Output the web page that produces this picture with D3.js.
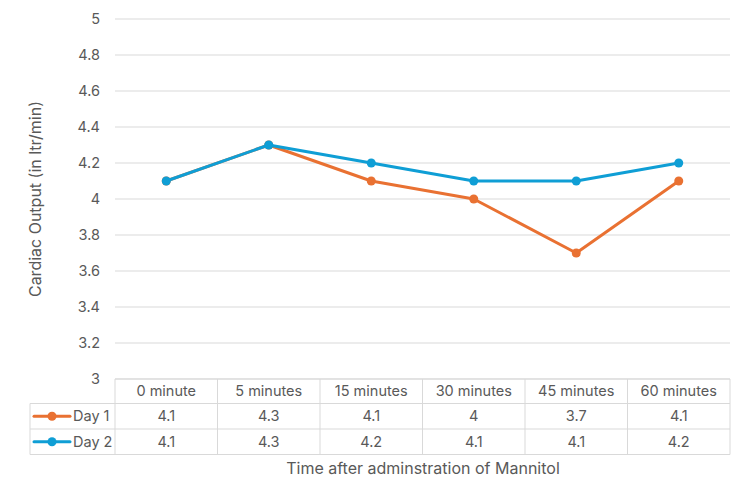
<!DOCTYPE html>
<html>
<head>
<meta charset="utf-8">
<script src="https://cdn.jsdelivr.net/npm/d3@7"></script>
<style>
  body { margin: 0; background: #fff; }
  text { font-family: Inter, "Open Sans", sans-serif; fill: #595959; }
</style>
</head>
<body>
<script>
// data
const categories = ["0 minute", "5 minutes", "15 minutes", "30 minutes", "45 minutes", "60 minutes"];
const day1 = [4.1, 4.3, 4.1, 4, 3.7, 4.1];
const day2 = [4.1, 4.3, 4.2, 4.1, 4.1, 4.2];
const yTicks = [3, 3.2, 3.4, 3.6, 3.8, 4, 4.2, 4.4, 4.6, 4.8, 5];
const seriesNames = ["Day 1", "Day 2"];
const colors = ["#E97132", "#0F9ED5"];

const width = 750, height = 500;
const plot = { left: 115, right: 730, top: 19, bottom: 379 };
const fs = "14.5px";

const svg = d3.select("body").append("svg")
  .attr("width", width)
  .attr("height", height);

const x = d3.scaleBand()
  .domain(categories)
  .range([plot.left, plot.right]);

const y = d3.scaleLinear()
  .domain([3, 5])
  .range([plot.bottom, plot.top]);

// gridlines
svg.append("g").selectAll("line")
  .data(yTicks)
  .join("line")
  .attr("x1", plot.left).attr("x2", plot.right)
  .attr("y1", d => y(d)).attr("y2", d => y(d))
  .attr("stroke", "#d9d9d9").attr("stroke-width", 1);

// y tick labels
svg.append("g").selectAll("text")
  .data(yTicks)
  .join("text")
  .attr("x", 100)
  .attr("y", d => y(d))
  .attr("dy", "0.35em")
  .attr("text-anchor", "end")
  .style("font-size", fs)
  .text(d => d3.format("~g")(d));

// y title
svg.append("text")
  .attr("transform", `translate(35, ${(plot.top + plot.bottom) / 2}) rotate(-90)`)
  .attr("text-anchor", "middle")
  .attr("dy", "0.35em")
  .style("font-size", "16px")
  .text("Cardiac Output (in ltr/min)");

// lines
const line = d3.line()
  .x((d, i) => x(categories[i]) + x.bandwidth() / 2)
  .y(d => y(d));

[day1, day2].forEach((s, k) => {
  const g = svg.append("g");
  g.append("path")
    .datum(s)
    .attr("d", line)
    .attr("fill", "none")
    .attr("stroke", colors[k])
    .attr("stroke-width", 3)
    .attr("stroke-linejoin", "round");
  g.selectAll("circle")
    .data(s)
    .join("circle")
    .attr("cx", (d, i) => x(categories[i]) + x.bandwidth() / 2)
    .attr("cy", d => y(d))
    .attr("r", 4.5)
    .attr("fill", colors[k]);
});

// data table
const rowH = [24.5, 25.5, 25.5];
const tTop = plot.bottom;
const tLeft = 30;
const rowY = [tTop, tTop + rowH[0], tTop + rowH[0] + rowH[1], tTop + rowH[0] + rowH[1] + rowH[2]];
const border = "#d9d9d9";
const tg = svg.append("g");

// horizontal lines
tg.append("line").attr("x1", plot.left).attr("x2", plot.right).attr("y1", rowY[0]).attr("y2", rowY[0]).attr("stroke", border);
[1, 2, 3].forEach(r => {
  tg.append("line").attr("x1", tLeft).attr("x2", plot.right)
    .attr("y1", rowY[r]).attr("y2", rowY[r]).attr("stroke", border);
});
// vertical lines
tg.append("line").attr("x1", tLeft).attr("x2", tLeft).attr("y1", rowY[1]).attr("y2", rowY[3]).attr("stroke", border);
const colEdges = categories.map(c => x(c)).concat([plot.right]);
colEdges.forEach(cx => {
  tg.append("line").attr("x1", cx).attr("x2", cx).attr("y1", rowY[0]).attr("y2", rowY[3]).attr("stroke", border);
});

// header
tg.selectAll("text.head")
  .data(categories)
  .join("text")
  .attr("class", "head")
  .attr("x", d => x(d) + x.bandwidth() / 2)
  .attr("y", (rowY[0] + rowY[1]) / 2)
  .attr("dy", "0.35em")
  .attr("text-anchor", "middle")
  .style("font-size", fs)
  .text(d => d);

// value rows with legend keys
[day1, day2].forEach((s, k) => {
  const cy = (rowY[k + 1] + rowY[k + 2]) / 2;
  tg.append("line")
    .attr("x1", 34).attr("x2", 70)
    .attr("y1", cy).attr("y2", cy)
    .attr("stroke", colors[k]).attr("stroke-width", 3)
    .attr("stroke-linecap", "round");
  tg.append("circle").attr("cx", 52).attr("cy", cy).attr("r", 4.5).attr("fill", colors[k]);
  tg.append("text")
    .attr("x", 73).attr("y", cy).attr("dy", "0.35em")
    .style("font-size", fs)
    .text(seriesNames[k]);
  tg.selectAll(null)
    .data(s)
    .join("text")
    .attr("x", (d, i) => x(categories[i]) + x.bandwidth() / 2)
    .attr("y", cy)
    .attr("dy", "0.35em")
    .attr("text-anchor", "middle")
    .style("font-size", fs)
    .text(d => d);
});

// x title
svg.append("text")
  .attr("x", 423)
  .attr("y", 468)
  .attr("dy", "0.35em")
  .attr("text-anchor", "middle")
  .style("font-size", "16px")
  .text("Time after adminstration of Mannitol");
</script>
</body>
</html>
